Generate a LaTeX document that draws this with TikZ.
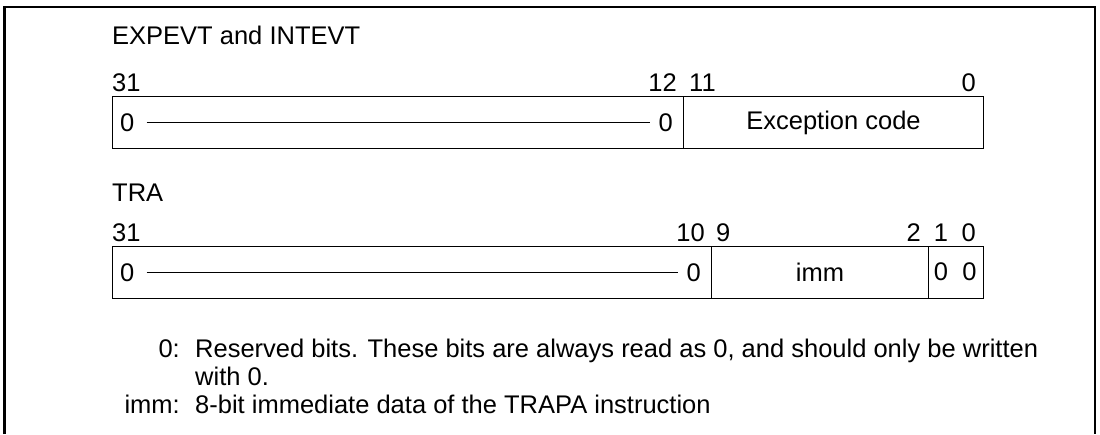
\documentclass[tikz,border=0pt]{standalone}
\usepackage{fontspec}
\setmainfont{Liberation Sans}
\begin{document}
\begin{tikzpicture}[x=1pt,y=-1pt,
  every node/.style={font=\fontsize{25.5}{29}\selectfont, inner sep=0pt},
  field/.style={draw, line width=1pt, anchor=north west, minimum height=52pt},
  bw/.style={anchor=base west},
  be/.style={anchor=base east},
  frameline/.style={line width=2.6pt}]
\useasboundingbox (0,0) rectangle (1100,434);
\draw[frameline] (4.5,434) -- (4.5,7) -- (1095,7) -- (1095,434);
% EXPEVT and INTEVT
\node[bw] (t1) at (112,44) {EXPEVT and INTEVT};
\node[bw] (a31) at (112,91) {31};
\node[be] (a12) at (677,91) {12};
\node[bw] (a11) at (689,91) {11};
\node[be] (a0) at (976,91) {0};
\node[field, minimum width=571pt] (f1a) at (112,96) {};
\node[field, minimum width=300pt] (f1b) at (683,96) {Exception code};
\node[anchor=west] (z1l) at ([xshift=8pt]f1a.west) {0};
\node[anchor=east] (z1r) at ([xshift=-11pt]f1a.east) {0};
\draw[line width=1pt, shorten <=12pt, shorten >=8pt] (z1l) -- (z1r);
% TRA
\node[bw] (t2) at (112,201) {TRA};
\node[bw] (b31) at (112,241) {31};
\node[be] (b10) at (705,241) {10};
\node[bw] (b9) at (716,241) {9};
\node[be] (b2) at (921,241) {2};
\node[anchor=base] (b1) at (941,241) {1};
\node[be] (b0) at (976,241) {0};
\node[field, minimum width=599pt] (f2a) at (112,246) {};
\node[field, minimum width=217pt] (f2b) at (711,246) {imm};
\node[field, minimum width=55pt] (f2c) at (928,246) {};
\node (c1) at (941,272) {0};
\node (c0) at (969.5,272) {0};
\node[anchor=west] (z2l) at ([xshift=8pt]f2a.west) {0};
\node[anchor=east] (z2r) at ([xshift=-11pt]f2a.east) {0};
\draw[line width=1pt, shorten <=12pt, shorten >=8pt] (z2l) -- (z2r);
% notes
\node[be] (n1k) at (180,357) {0:};
\node[bw] (n1a) at (195,357) {Reserved bits. These bits are always read as 0, and should only be written};
\node[bw] (n1b) at (195,385) {with 0.};
\node[be] (n2k) at (180,413) {imm:};
\node[bw] (n2a) at (195,413) {8-bit immediate data of the TRAPA instruction};
\end{tikzpicture}
\end{document}
